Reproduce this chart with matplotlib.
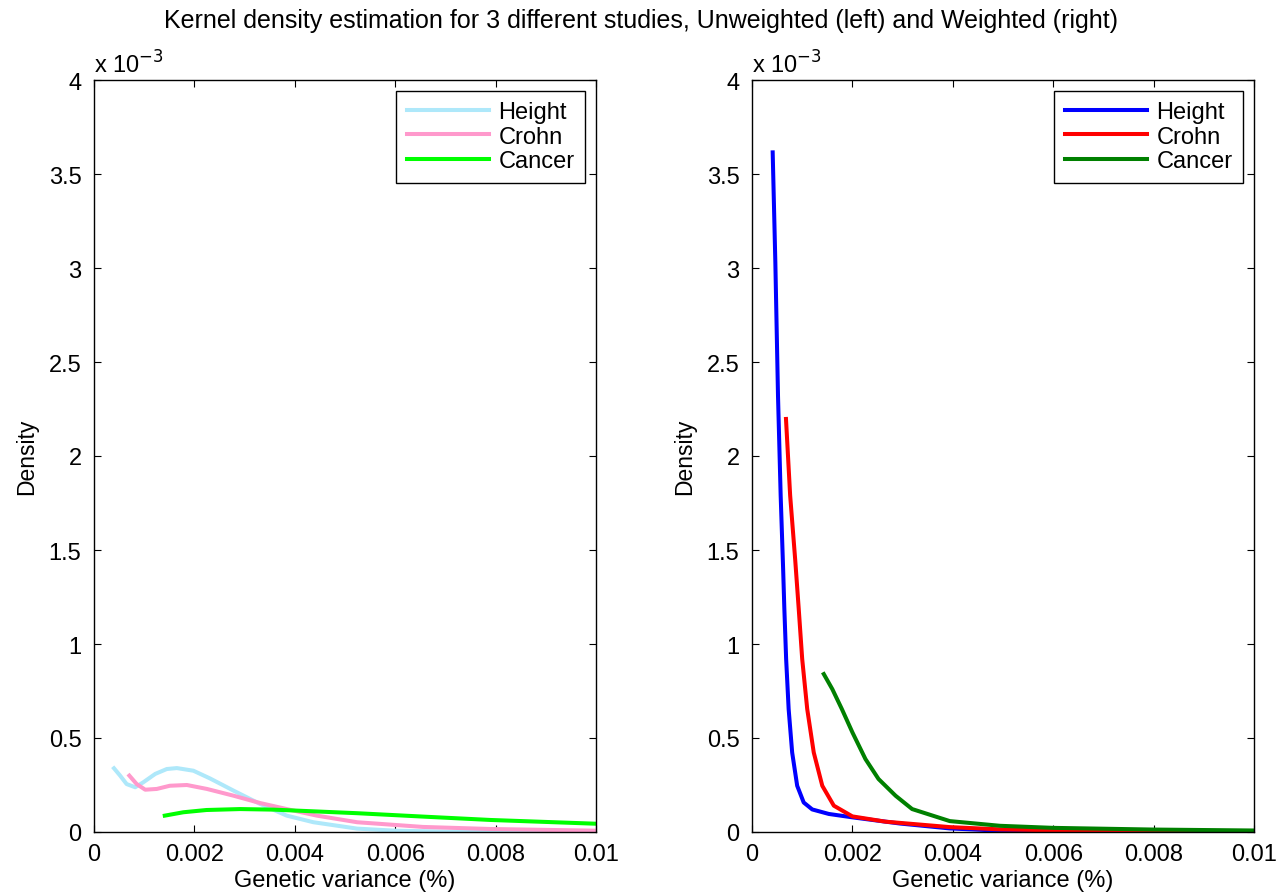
import matplotlib
matplotlib.use("Agg")
import matplotlib.pyplot as plt
import numpy as np

plt.rcParams['font.family'] = ['Liberation Sans', 'DejaVu Sans']

series_names = ["Height", "Crohn", "Cancer"]

# Unweighted (left), density in units of 1e-3
uw_height_x = [0.000398, 0.00052, 0.00065, 0.00082, 0.00098, 0.00122, 0.00145, 0.00165, 0.00198, 0.00231,
               0.00278, 0.00331, 0.00384, 0.00437, 0.00524, 0.006, 0.007, 0.008, 0.01]
uw_height_y = [0.339, 0.30, 0.255, 0.238, 0.264, 0.309, 0.335, 0.34, 0.326, 0.285,
               0.22, 0.149, 0.087, 0.052, 0.018, 0.007, 0.002, 0.001, 0.0]
uw_crohn_x = [0.000704, 0.00085, 0.00102, 0.00125, 0.00151, 0.00185, 0.00225, 0.00278, 0.00331, 0.00384,
              0.00444, 0.00524, 0.00655, 0.0079, 0.01]
uw_crohn_y = [0.30, 0.255, 0.225, 0.229, 0.246, 0.25, 0.229, 0.193, 0.154, 0.122,
              0.087, 0.052, 0.027, 0.016, 0.007]
uw_cancer_x = [0.00141, 0.00178, 0.00224, 0.00291, 0.00357, 0.00437, 0.00524, 0.00655, 0.0079, 0.01]
uw_cancer_y = [0.087, 0.105, 0.117, 0.122, 0.119, 0.11, 0.10, 0.082, 0.064, 0.044]

# Weighted (right)
w_height_x = [0.000412, 0.000465, 0.000518, 0.000571, 0.00062, 0.000644, 0.00068, 0.00073, 0.0008, 0.0009,
              0.00103, 0.0012, 0.00153, 0.002, 0.00266, 0.00295, 0.00394, 0.00494, 0.006, 0.01]
w_height_y = [3.615, 3.03, 2.32, 1.79, 1.40, 1.19, 0.92, 0.654, 0.423, 0.246,
              0.157, 0.12, 0.096, 0.078, 0.055, 0.045, 0.019, 0.007, 0.003, 0.0005]
w_crohn_x = [0.000677, 0.00076, 0.00086, 0.00093, 0.001, 0.0011, 0.00123, 0.0014, 0.00163, 0.002,
             0.00266, 0.00319, 0.00394, 0.00494, 0.006, 0.008, 0.01]
w_crohn_y = [2.197, 1.79, 1.45, 1.19, 0.92, 0.654, 0.423, 0.246, 0.14, 0.083,
             0.055, 0.043, 0.026, 0.014, 0.009, 0.005, 0.003]
w_cancer_x = [0.00143, 0.0016, 0.00179, 0.002, 0.00226, 0.00252, 0.00286, 0.00319, 0.00394, 0.00494,
              0.006, 0.008, 0.01]
w_cancer_y = [0.84, 0.76, 0.654, 0.53, 0.388, 0.282, 0.193, 0.122, 0.058, 0.033,
              0.022, 0.013, 0.008]

left_colors = ["#aee8fa", "#ff99cc", "#00ff00"]
right_colors = ["#0000ff", "#ff0000", "#008000"]

x_ticks = [0, 0.002, 0.004, 0.006, 0.008, 0.01]
x_ticklabels = ["0", "0.002", "0.004", "0.006", "0.008", "0.01"]
y_ticks = [0, 0.5, 1, 1.5, 2, 2.5, 3, 3.5, 4]
y_ticklabels = ["0", "0.5", "1", "1.5", "2", "2.5", "3", "3.5", "4"]
scale = 1e-3

fig = plt.figure(figsize=(12.81, 8.95), dpi=100)
axL = fig.add_axes([94/1281, 62/895, 502/1281, 752/895])
axR = fig.add_axes([752/1281, 62/895, 502/1281, 752/895])

FS = 17

def style(ax):
    ax.set_xlim(0, 0.01)
    ax.set_ylim(0, 4 * scale)
    ax.set_xticks(x_ticks)
    ax.set_xticklabels(x_ticklabels)
    ax.set_yticks([v * scale for v in y_ticks])
    ax.set_yticklabels(y_ticklabels)
    ax.tick_params(direction='in', top=True, right=True, length=5, width=0.8,
                   labelsize=FS)
    ax.tick_params(axis='x', pad=8)
    ax.tick_params(axis='y', pad=9)
    for s in ax.spines.values():
        s.set_linewidth(1.0)
    ax.set_xlabel("Genetic variance (%)", fontsize=FS, labelpad=3)
    ax.set_ylabel("Density", fontsize=16.5, labelpad=8)
    ax.text(0.0, 1.003, r"x 10$^{-3}$", transform=ax.transAxes, fontsize=FS,
            ha='left', va='bottom')

axL.plot(uw_height_x, np.array(uw_height_y) * scale, color=left_colors[0], lw=2.9, label=series_names[0])
axL.plot(uw_crohn_x, np.array(uw_crohn_y) * scale, color=left_colors[1], lw=2.9, label=series_names[1])
axL.plot(uw_cancer_x, np.array(uw_cancer_y) * scale, color=left_colors[2], lw=2.9, label=series_names[2])

axR.plot(w_height_x, np.array(w_height_y) * scale, color=right_colors[0], lw=2.9, label=series_names[0])
axR.plot(w_crohn_x, np.array(w_crohn_y) * scale, color=right_colors[1], lw=2.9, label=series_names[1])
axR.plot(w_cancer_x, np.array(w_cancer_y) * scale, color=right_colors[2], lw=2.9, label=series_names[2])

for ax in (axL, axR):
    style(ax)
    leg = ax.legend(loc='upper right', fontsize=FS, fancybox=False, framealpha=1,
                    edgecolor='black', handlelength=3.5, borderaxespad=0.45,
                    labelspacing=0.1, handletextpad=0.4, borderpad=0.45)
    leg.get_frame().set_linewidth(1.0)

fig.text(0.5, 0.99, "Kernel density estimation for 3 different studies, Unweighted (left) and Weighted (right)",
         ha='center', va='top', fontsize=18)

fig.savefig("out.png", dpi=100)
